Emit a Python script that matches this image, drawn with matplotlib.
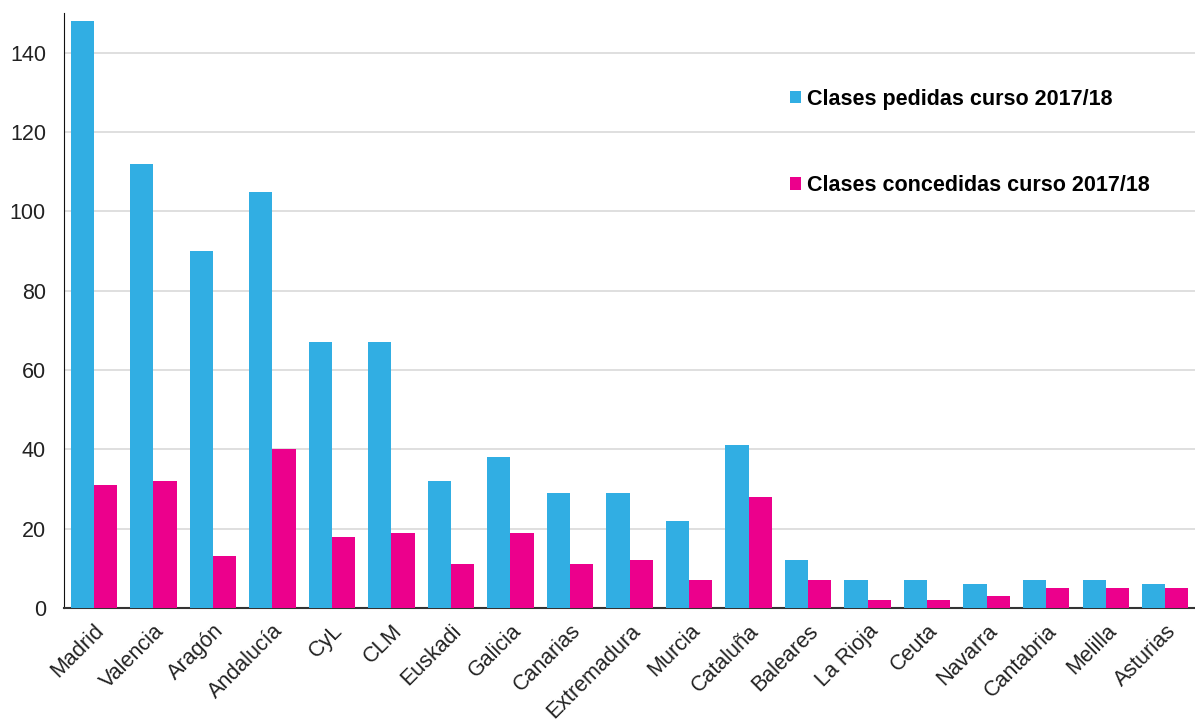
import numpy as np
import matplotlib
matplotlib.use("Agg")
import matplotlib.pyplot as plt

regiones = ["Madrid", "Valencia", "Aragón", "Andalucía", "CyL", "CLM", "Euskadi",
            "Galicia", "Canarias", "Extremadura", "Murcia", "Cataluña", "Baleares",
            "La Rioja", "Ceuta", "Navarra", "Cantabria", "Melilla", "Asturias"]
pedidas = [148, 112, 90, 105, 67, 67, 32, 38, 29, 29, 22, 41, 12, 7, 7, 6, 7, 7, 6]
concedidas = [31, 32, 13, 40, 18, 19, 11, 19, 11, 12, 7, 28, 7, 2, 2, 3, 5, 5, 5]

azul = "#31AEE3"
rosa = "#EC008C"

plt.rcParams["font.family"] = ["Liberation Sans", "DejaVu Sans"]

fig = plt.figure(figsize=(11.95, 7.2), dpi=100)
ax = fig.add_axes([0.0536, 0.1556, 0.9464, 0.826])

x = np.arange(len(regiones))
w = 0.39
ax.bar(x - w / 2, pedidas, w, color=azul, label="Clases pedidas curso 2017/18", zorder=3)
ax.bar(x + w / 2, concedidas, w, color=rosa, label="Clases concedidas curso 2017/18", zorder=3)

ax.set_xlim(-0.5, len(regiones) - 0.5)
ax.set_ylim(0, 150)
ax.set_yticks(range(0, 141, 20))
ax.yaxis.grid(True, color="#d9d9d9", linewidth=1.2, zorder=0)
ax.set_axisbelow(True)

ax.set_xticks(x)
ax.set_xticklabels(regiones, rotation=45, ha="right", rotation_mode="anchor", fontsize=15.5, color="#222222")
ax.tick_params(axis="y", labelsize=15.5, colors="#222222", length=0, pad=13)
ax.tick_params(axis="x", length=0, pad=9)

for s in ["top", "right"]:
    ax.spines[s].set_visible(False)
ax.spines["left"].set_color("#111111")
ax.spines["bottom"].set_color("#333333")
ax.spines["bottom"].set_linewidth(1.5)

leg = ax.legend(loc="upper left", bbox_to_anchor=(0.625, 0.906), frameon=False,
                labelspacing=3.05, handlelength=0.5, handleheight=0.5, handletextpad=0.3,
                prop={"weight": "bold", "size": 15.5})

fig.savefig("out.png", dpi=100)
